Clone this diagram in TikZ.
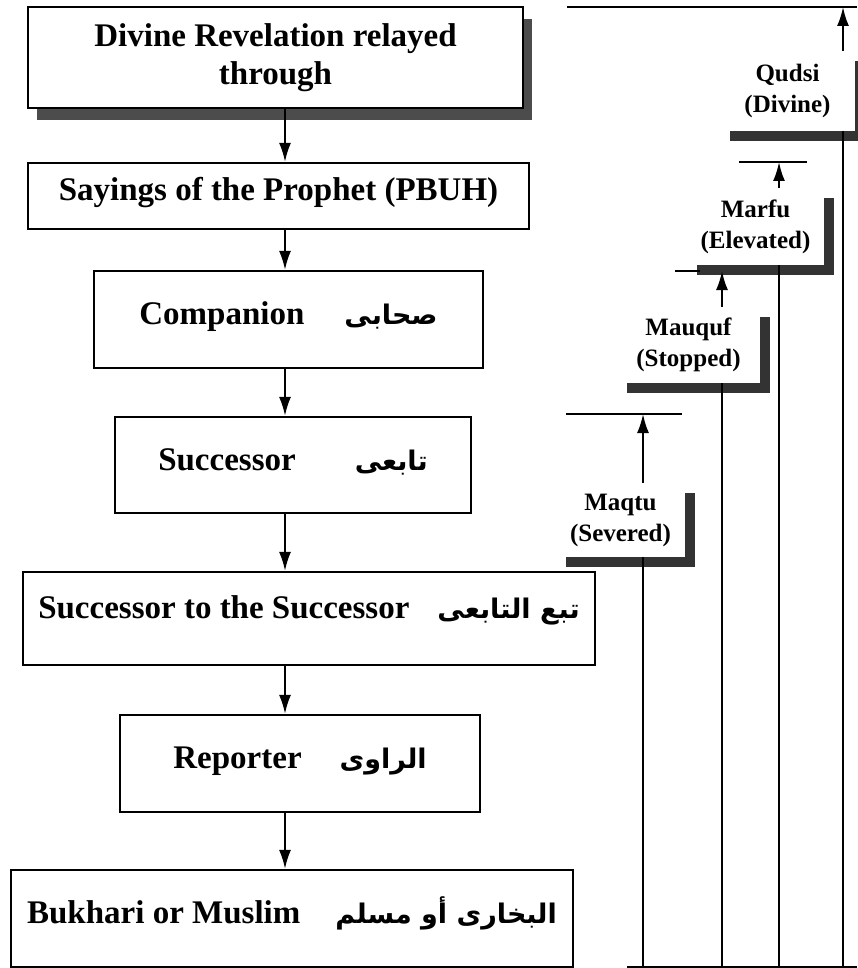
\documentclass[tikz,border=0pt]{standalone}
\usepackage{fontspec}
\setmainfont{Liberation Serif}
\newfontfamily\arabicfont[Script=Arabic]{DejaVu Sans}
\TeXXeTstate=1
\usetikzlibrary{arrows.meta,shadows}

\newcommand{\arab}[1]{{\arabicfont\fontsize{13.5}{16}\selectfont\beginR #1\endR}}

\begin{document}
\begin{tikzpicture}[x=0.5pt,y=-0.5pt,
  block/.style={draw,fill=white,line width=1.1pt,inner sep=0pt,font=\fontsize{16.5}{19}\selectfont\bfseries},
  oneline/.style={text height=10pt,text depth=5pt},
  tag/.style={fill=white,inner sep=0pt,align=center,font=\fontsize{12.5}{15.5}\selectfont\bfseries,
    drop shadow={shadow xshift=5pt,shadow yshift=-5pt,fill=black!80,opacity=1}},
  arr/.style={-{Latex[length=9.5pt,width=6pt]},line width=1pt},
  rail/.style={line width=1pt}]
\useasboundingbox (0,0) rectangle (857,968);

\node[block,align=center,minimum width=247.5pt,minimum height=50.5pt,
  drop shadow={shadow xshift=4.5pt,shadow yshift=-6pt,fill=black!70,opacity=1}] (divine) at (275.5,57.5) {Divine Revelation relayed\\through};
\node[block,oneline,minimum width=250.5pt,minimum height=33pt] (sayings) at (278.5,196) {Sayings of the Prophet (PBUH)};
\node[block,oneline,minimum width=194.5pt,minimum height=48.5pt] (companion) at (288.5,319.5) {Companion\hspace{20pt}\arab{صحابى}};
\node[block,oneline,minimum width=178pt,minimum height=48pt] (successor) at (293,465) {Successor\hspace{29.5pt}\arab{تابعى}};
\node[block,text height=10pt,text depth=10.5pt,minimum width=286pt,minimum height=46.5pt] (follower) at (309,618.5) {Successor to the Successor\hspace{14pt}\arab{تبع التابعى}};
\node[block,oneline,minimum width=180pt,minimum height=48.5pt] (reporter) at (300,763.5) {Reporter\hspace{19pt}\arab{الراوى}};
\node[block,oneline,minimum width=281pt,minimum height=48.5pt] (collector) at (292,918.5) {Bukhari or Muslim\hspace{17.5pt}\arab{البخارى أو مسلم}};

\coordinate (spine) at (285,0);
\foreach \a/\b in {divine/sayings,sayings/companion,companion/successor,successor/follower,follower/reporter,reporter/collector}
  \draw[arr] (\a.south -| spine) -- (\b.north -| spine);

\node[tag,minimum width=67.5pt,minimum height=40pt] (qudsi) at (787.5,91) {Qudsi\\(Divine)};
\node[tag,minimum width=68.5pt,minimum height=38.5pt] (marfu) at (755.5,226.5) {Marfu\\(Elevated)};
\node[tag,minimum width=71.5pt,minimum height=38pt] (mauquf) at (688.5,345) {Mauquf\\(Stopped)};
\node[tag,minimum width=64.5pt,minimum height=37pt] (maqtu) at (620.5,520) {Maqtu\\(Severed)};

\coordinate (base) at (627,967);
\coordinate (ceilQ) at (567,7);
\coordinate (ceilR) at (739,162);
\coordinate (ceilS) at (675,271);
\coordinate (ceilT) at (566,414);
\draw[rail] (base) -- ++(230,0);
\draw[rail] (ceilQ) -- ++(290,0);
\draw[rail] (ceilR) -- ++(68,0);
\draw[rail] (ceilS) -- ++(25,0);
\draw[rail] (ceilT) -- ++(116,0);

\foreach \n/\x/\c in {qudsi/843/ceilQ,marfu/779/ceilR,mauquf/722/ceilS,maqtu/643/ceilT}{
  \draw[rail] (\n.south -| \x,0) -- (\x,0 |- base);
  \draw[arr] (\n.north -| \x,0) -- (\x,0 |- \c);
}
\end{tikzpicture}
\end{document}
